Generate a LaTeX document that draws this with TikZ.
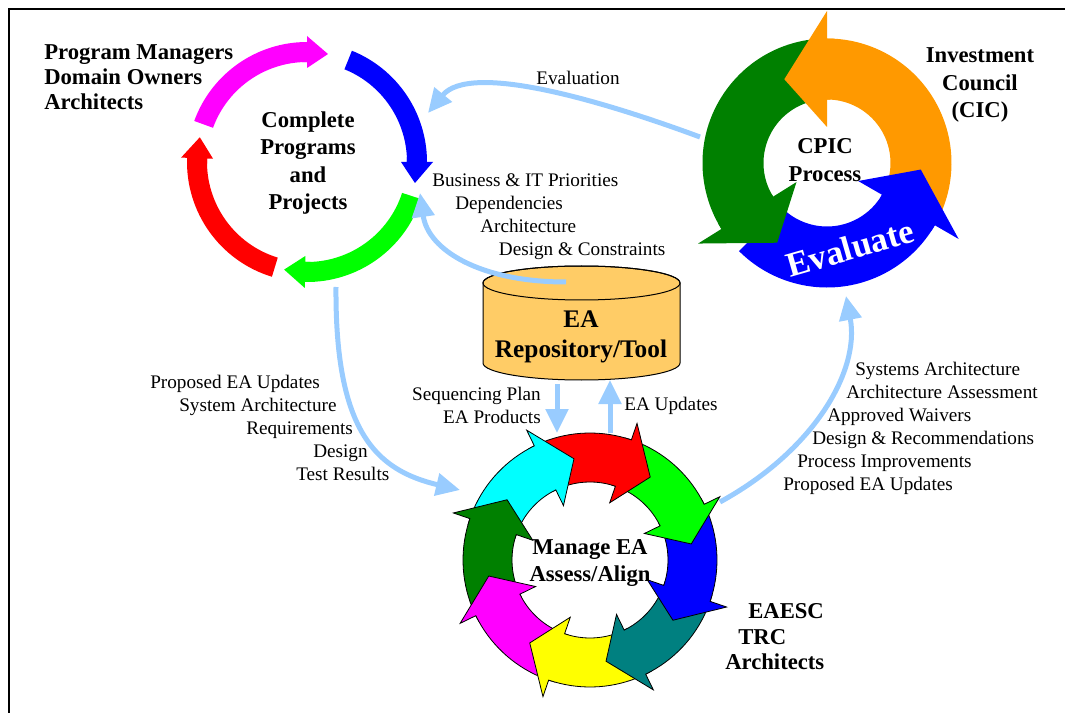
\documentclass[tikz,border=0pt]{standalone}
\usepackage{fontspec}
\setmainfont{Liberation Serif}
\usepackage{tikz}
\usetikzlibrary{arrows,arrows.meta,positioning,calc}

\definecolor{flowblue}{HTML}{99CCFF}
\definecolor{cpicorange}{HTML}{FF9900}
\definecolor{darkgrn}{HTML}{008000}
\definecolor{tealc}{HTML}{008080}
\definecolor{repoyellow}{HTML}{FFCC66}
\definecolor{ringmag}{HTML}{FF00FF}
\definecolor{ringcyan}{HTML}{00FFFF}
\definecolor{ringyel}{HTML}{FFFF00}
\definecolor{ringred}{HTML}{FF0000}
\definecolor{ringgrn}{HTML}{00FF00}
\definecolor{ringblue}{HTML}{0000FF}

% ring segment: centre, radius, width, tail angle, base angle, style
\newcommand{\ringbody}[6]{%
  \begin{scope}[shift={(#1)}]
    \path[#6] (#4:{#2+#3/2}) arc[start angle=#4, end angle=#5, radius={#2+#3/2}]
      -- (#5:{#2-#3/2}) arc[start angle=#5, end angle=#4, radius={#2-#3/2}] -- cycle;
  \end{scope}}
% arrow head: centre, radius, width, back angle, base angle, tip angle, half width, style
\newcommand{\ringhead}[8]{%
  \begin{scope}[shift={(#1)}]
    \path[#8] (#4:{#2+#3/2}) arc[start angle=#4, end angle=#5, radius={#2+#3/2}]
      -- (#5:{#2+#7}) -- (#6:#2) -- (#5:{#2-#7})
      -- (#5:{#2-#3/2}) arc[start angle=#5, end angle=#4, radius={#2-#3/2}];
  \end{scope}}

\begin{document}
\begin{tikzpicture}[x=0.75pt,y=-0.75pt,
  flow/.style={draw=flowblue, line width=3.75pt, -{Triangle[length=18pt,width=16.5pt]}},
  smalllbl/.style={font=\fontsize{14.4}{17.25}\selectfont, inner sep=0pt},
  boldlbl/.style={font=\fontsize{17}{20.6}\selectfont\bfseries, inner sep=0pt, align=center},
  eaarrow/.style={fill=#1, draw=black, line width=0.6pt},
  repo/.style={fill=repoyellow, draw=black, line width=0.75pt}]
	\useasboundingbox (0,0) rectangle (1065,713);
	\draw[line width=0.9pt] (9,713) -- (9,9) -- (1065,9);

	% programs and projects ring
	\foreach \tl/\bs/\tp/\col in {-160/-90/-79/ringmag, -68/0/11/ringblue, 18/91/102/ringgrn, 107/182/193/ringred}{
		\ringbody{307,162}{110}{20}{\tl}{\bs}{fill=\col}
		\ringhead{307,162}{110}{20}{\bs-3}{\bs}{\tp}{16}{fill=\col}
	}

	% CPIC ring
	\foreach \tl/\bs/\col in {25/-90/cpicorange, -95/-212/darkgrn, -225/-330/ringblue}
		\ringbody{827,163}{94}{61}{\tl}{\bs}{fill=\col};
	\foreach \bs/\tp/\col in {-90/-117/cpicorange, -212/-238/darkgrn, -330/-356/ringblue}
		\ringhead{827,163}{94}{61}{\bs+3}{\bs}{\tp}{58}{fill=\col};

	% manage EA ring
	\foreach \tp/\col in {-99/ringcyan, -54/ringred, -9/ringgrn, 36/ringblue, 81/tealc, 126/ringyel, 171/ringmag, 216/darkgrn}
		\ringbody{590,560}{102.5}{49}{\tp-58}{\tp-17}{eaarrow=\col};
	\foreach \tp/\col in {-99/ringcyan, -54/ringred, -9/ringgrn, 36/ringblue, 81/tealc, 126/ringyel, 171/ringmag, 216/darkgrn}
		\ringhead{590,560}{102.5}{49}{\tp-20}{\tp-17}{\tp}{42}{eaarrow=\col};

	% repository
	\path[repo] (483,283) -- (483,363) arc[start angle=180, end angle=0, x radius=98.5, y radius=17]
		-- (680,283) arc[start angle=0, end angle=-180, x radius=98.5, y radius=17] -- cycle;
	\draw[line width=0.75pt] (581.5,283) ellipse[x radius=98.5, y radius=17];
	\node[boldlbl, font=\fontsize{19}{22}\selectfont\bfseries](repo) at (581,337) {EA\\Repository/Tool};

	\node[boldlbl](prog) at (308,163) {Complete\\Programs\\and\\Projects};
	\node[boldlbl, font=\fontsize{17}{21}\selectfont\bfseries](cpic) at (825,160) {CPIC\\Process};
	\node[font=\fontsize{26}{30}\selectfont\bfseries, text=white, inner sep=0pt, rotate=16](evalword) at (850,248) {Evaluate};
	\node[boldlbl, font=\fontsize{17}{20.3}\selectfont\bfseries](manage) at (590,563) {Manage EA\\Assess/Align};
	\node[boldlbl](cic) at (980,85) {Investment\\Council\\(CIC)};
	\node[boldlbl, align=left, font=\fontsize{17}{18.8}\selectfont\bfseries, anchor=west](owners) at (44,77) {Program Managers\\Domain Owners\\Architects};
	\node[boldlbl, align=left, font=\fontsize{17}{19.1}\selectfont\bfseries, anchor=west](eaesc) at (725,637) {\hspace*{17.25pt}EAESC\\\hspace*{9.75pt}TRC\\Architects};

	% connector labels
	\node[smalllbl](evaltxt) at (578,78) {Evaluation};
	\node[smalllbl, align=left, anchor=west](prio) at (432,216.5) {Business \& IT Priorities\\\hspace*{17.25pt}Dependencies\\\hspace*{36pt}Architecture\\\hspace*{50pt}Design \& Constraints};
	\node[smalllbl, align=right, anchor=east](seq) at (541,405.5) {Sequencing Plan\\EA Products};
	\node[smalllbl, anchor=west](upd) at (624,406) {EA Updates};
	\node[smalllbl, align=left, anchor=west](proposed) at (150,427.5) {Proposed EA Updates\\\hspace*{21.75pt}System Architecture\\\hspace*{72pt}Requirements\\\hspace*{122.25pt}Design\\\hspace*{109.5pt}Test Results};
	\node[smalllbl, align=left, anchor=west](assess) at (783,428.5) {\hspace*{54pt}Systems Architecture\\\hspace*{47.25pt}Architecture Assessment\\\hspace*{33pt}Approved Waivers\\\hspace*{21.75pt}Design \& Recommendations\\\hspace*{10.5pt}Process Improvements\\Proposed EA Updates};

	% connectors
	\coordinate (cpicW) at (700,137);
	\coordinate (progNE) at (428,113);
	\coordinate (repoTop) at (566,282);
	\coordinate (progE) at (420,193);
	\coordinate (progS) at (336,287);
	\coordinate (manageW) at (460,490);
	\coordinate (manageNE) at (720,502);
	\coordinate (cpicS) at (846,296);
	\coordinate (repoB1) at (557,384);
	\coordinate (manageN1) at (557,433);
	\coordinate (manageN2) at (610,433);
	\coordinate (repoB2) at (610,380);
	\draw[flow] (cpicW) .. controls (600,100) and (470,62) .. (progNE);
	\draw[flow] (repoTop) .. controls (480,282) and (428,250) .. (progE);
	\draw[flow] (progS) .. controls (335,430) and (375,470) .. (manageW);
	\draw[flow] (manageNE) .. controls (815,450) and (860,370) .. (cpicS);
	\draw[flow] (repoB1) -- (manageN1);
	\draw[flow] (manageN2) -- (repoB2);
\end{tikzpicture}
\end{document}
